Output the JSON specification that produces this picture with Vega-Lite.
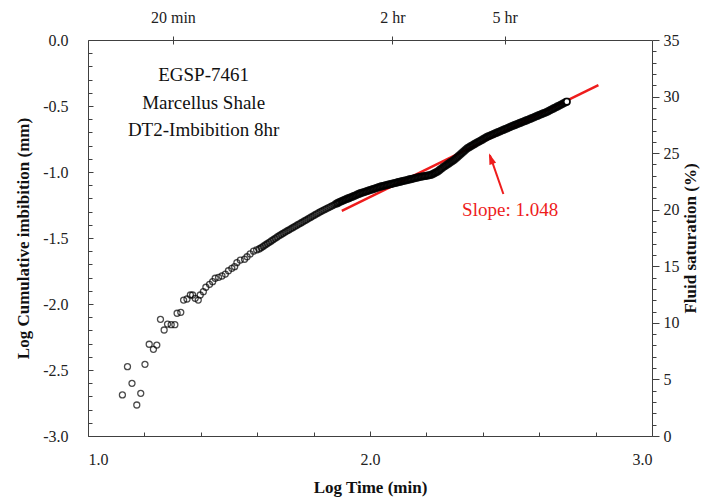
{
  "$schema": "https://vega.github.io/schema/vega-lite/v6.json",
  "width": 564,
  "height": 396,
  "autosize": {"type": "none"},
  "padding": {"left": 88, "top": 40, "right": 75, "bottom": 65},
  "background": "white",
  "config": {
    "view": {"stroke": null},
    "font": "Liberation Serif",
    "axis": {
      "grid": false,
      "domainColor": "#404040",
      "tickColor": "#404040",
      "labelColor": "#222222",
      "titleColor": "#111111",
      "labelFont": "Liberation Serif",
      "titleFont": "Liberation Serif",
      "labelFontSize": 16,
      "titleFontSize": 17,
      "titleFontWeight": "bold",
      "domainWidth": 1,
      "tickWidth": 1
    }
  },
  "datasets": {
    "pts": [
      {"t":1.122,"v":-2.689},{"t":1.140,"v":-2.475},{"t":1.156,"v":-2.601},{"t":1.173,"v":-2.765},{"t":1.187,"v":-2.677},
      {"t":1.202,"v":-2.457},{"t":1.217,"v":-2.305},{"t":1.232,"v":-2.343},{"t":1.244,"v":-2.311},{"t":1.257,"v":-2.116},
      {"t":1.270,"v":-2.197},{"t":1.282,"v":-2.152},{"t":1.295,"v":-2.157},{"t":1.308,"v":-2.157},{"t":1.316,"v":-2.070},
      {"t":1.329,"v":-2.063},{"t":1.339,"v":-1.970},{"t":1.351,"v":-1.962},{"t":1.363,"v":-1.932},{"t":1.371,"v":-1.932},
      {"t":1.380,"v":-1.957},{"t":1.391,"v":-1.970},{"t":1.398,"v":-1.932},{"t":1.409,"v":-1.907},{"t":1.418,"v":-1.873},
      {"t":1.431,"v":-1.851},{"t":1.442,"v":-1.831},{"t":1.451,"v":-1.805},{"t":1.463,"v":-1.798},{"t":1.475,"v":-1.788},
      {"t":1.487,"v":-1.773},{"t":1.498,"v":-1.748},{"t":1.510,"v":-1.730},{"t":1.520,"v":-1.717},{"t":1.528,"v":-1.687},
      {"t":1.540,"v":-1.667},{"t":1.555,"v":-1.661},{"t":1.564,"v":-1.642},{"t":1.575,"v":-1.621},{"t":1.587,"v":-1.600},
      {"t":1.598,"v":-1.590},
      {"t":1.607,"v":-1.583},{"t":1.614,"v":-1.574},{"t":1.621,"v":-1.564},{"t":1.628,"v":-1.554},{"t":1.635,"v":-1.544},
      {"t":1.642,"v":-1.534},{"t":1.649,"v":-1.524},{"t":1.656,"v":-1.514},{"t":1.663,"v":-1.504},{"t":1.670,"v":-1.494},
      {"t":1.677,"v":-1.484},{"t":1.684,"v":-1.475},{"t":1.691,"v":-1.466},{"t":1.698,"v":-1.457},{"t":1.705,"v":-1.448},
      {"t":1.712,"v":-1.440},{"t":1.719,"v":-1.431},{"t":1.726,"v":-1.422},{"t":1.733,"v":-1.414},{"t":1.740,"v":-1.405},
      {"t":1.747,"v":-1.396},{"t":1.754,"v":-1.388},{"t":1.761,"v":-1.379},{"t":1.768,"v":-1.370},{"t":1.775,"v":-1.362},
      {"t":1.782,"v":-1.353},{"t":1.789,"v":-1.344},{"t":1.796,"v":-1.336},{"t":1.803,"v":-1.327},{"t":1.810,"v":-1.318},
      {"t":1.817,"v":-1.310},{"t":1.824,"v":-1.301},{"t":1.831,"v":-1.294},{"t":1.838,"v":-1.286},{"t":1.845,"v":-1.279},
      {"t":1.852,"v":-1.271},{"t":1.859,"v":-1.264},{"t":1.866,"v":-1.256},{"t":1.873,"v":-1.249},{"t":1.880,"v":-1.241},
      {"t":1.885,"v":-1.236},{"t":1.890,"v":-1.230},{"t":1.895,"v":-1.225},{"t":1.900,"v":-1.220},{"t":1.905,"v":-1.216},
      {"t":1.910,"v":-1.211},{"t":1.915,"v":-1.207},{"t":1.920,"v":-1.202},{"t":1.925,"v":-1.198},{"t":1.930,"v":-1.194},
      {"t":1.935,"v":-1.189},{"t":1.940,"v":-1.185},{"t":1.945,"v":-1.180},{"t":1.950,"v":-1.176},{"t":1.955,"v":-1.171},
      {"t":1.960,"v":-1.166},{"t":1.965,"v":-1.162},{"t":1.970,"v":-1.158},{"t":1.975,"v":-1.155},{"t":1.980,"v":-1.151},
      {"t":1.985,"v":-1.148},{"t":1.990,"v":-1.144},{"t":1.995,"v":-1.141},{"t":2.000,"v":-1.137},{"t":2.005,"v":-1.134},
      {"t":2.010,"v":-1.130},{"t":2.015,"v":-1.127},{"t":2.020,"v":-1.123},{"t":2.025,"v":-1.119},{"t":2.030,"v":-1.116},
      {"t":2.035,"v":-1.112},{"t":2.040,"v":-1.109},{"t":2.045,"v":-1.107},{"t":2.050,"v":-1.104},{"t":2.055,"v":-1.101},
      {"t":2.060,"v":-1.099},{"t":2.065,"v":-1.096},{"t":2.070,"v":-1.093},{"t":2.075,"v":-1.091},{"t":2.080,"v":-1.088},
      {"t":2.085,"v":-1.085},{"t":2.090,"v":-1.083},{"t":2.095,"v":-1.080},{"t":2.100,"v":-1.077},{"t":2.105,"v":-1.075},
      {"t":2.110,"v":-1.072},{"t":2.115,"v":-1.069},{"t":2.120,"v":-1.067},{"t":2.125,"v":-1.064},{"t":2.130,"v":-1.062},
      {"t":2.135,"v":-1.059},{"t":2.140,"v":-1.056},{"t":2.145,"v":-1.054},{"t":2.150,"v":-1.051},{"t":2.155,"v":-1.049},
      {"t":2.160,"v":-1.046},{"t":2.165,"v":-1.043},{"t":2.170,"v":-1.041},{"t":2.175,"v":-1.038},{"t":2.180,"v":-1.036},
      {"t":2.185,"v":-1.034},{"t":2.190,"v":-1.032},{"t":2.195,"v":-1.030},{"t":2.200,"v":-1.029},{"t":2.205,"v":-1.027},
      {"t":2.210,"v":-1.025},{"t":2.215,"v":-1.023},{"t":2.220,"v":-1.018},{"t":2.225,"v":-1.013},{"t":2.230,"v":-1.007},
      {"t":2.235,"v":-1.002},{"t":2.240,"v":-0.996},{"t":2.245,"v":-0.988},{"t":2.250,"v":-0.980},{"t":2.255,"v":-0.972},
      {"t":2.260,"v":-0.963},{"t":2.265,"v":-0.956},{"t":2.270,"v":-0.949},{"t":2.275,"v":-0.942},{"t":2.280,"v":-0.935},
      {"t":2.285,"v":-0.927},{"t":2.290,"v":-0.920},{"t":2.295,"v":-0.913},{"t":2.300,"v":-0.905},{"t":2.305,"v":-0.896},
      {"t":2.310,"v":-0.886},{"t":2.315,"v":-0.877},{"t":2.320,"v":-0.867},{"t":2.325,"v":-0.858},{"t":2.330,"v":-0.848},
      {"t":2.335,"v":-0.839},{"t":2.340,"v":-0.829},{"t":2.345,"v":-0.820},{"t":2.350,"v":-0.814},{"t":2.355,"v":-0.808},
      {"t":2.360,"v":-0.802},{"t":2.365,"v":-0.795},{"t":2.370,"v":-0.789},{"t":2.375,"v":-0.783},{"t":2.380,"v":-0.777},
      {"t":2.385,"v":-0.771},{"t":2.390,"v":-0.765},{"t":2.395,"v":-0.759},{"t":2.400,"v":-0.753},{"t":2.405,"v":-0.746},
      {"t":2.410,"v":-0.740},{"t":2.415,"v":-0.734},{"t":2.420,"v":-0.729},{"t":2.425,"v":-0.725},{"t":2.430,"v":-0.720},
      {"t":2.435,"v":-0.716},{"t":2.440,"v":-0.711},{"t":2.445,"v":-0.706},{"t":2.450,"v":-0.702},{"t":2.455,"v":-0.697},
      {"t":2.460,"v":-0.693},{"t":2.465,"v":-0.688},{"t":2.470,"v":-0.684},{"t":2.475,"v":-0.679},{"t":2.480,"v":-0.674},
      {"t":2.485,"v":-0.670},{"t":2.490,"v":-0.665},{"t":2.495,"v":-0.661},{"t":2.500,"v":-0.656},{"t":2.505,"v":-0.652},
      {"t":2.510,"v":-0.647},{"t":2.515,"v":-0.643},{"t":2.520,"v":-0.639},{"t":2.525,"v":-0.634},{"t":2.530,"v":-0.630},
      {"t":2.535,"v":-0.626},{"t":2.540,"v":-0.621},{"t":2.545,"v":-0.617},{"t":2.550,"v":-0.613},{"t":2.555,"v":-0.609},
      {"t":2.560,"v":-0.604},{"t":2.565,"v":-0.600},{"t":2.570,"v":-0.596},{"t":2.575,"v":-0.591},{"t":2.580,"v":-0.587},
      {"t":2.585,"v":-0.582},{"t":2.590,"v":-0.578},{"t":2.595,"v":-0.573},{"t":2.600,"v":-0.569},{"t":2.605,"v":-0.564},
      {"t":2.610,"v":-0.560},{"t":2.615,"v":-0.555},{"t":2.620,"v":-0.551},{"t":2.625,"v":-0.547},{"t":2.630,"v":-0.542},
      {"t":2.635,"v":-0.536},{"t":2.640,"v":-0.531},{"t":2.645,"v":-0.525},{"t":2.650,"v":-0.520},{"t":2.655,"v":-0.514},
      {"t":2.660,"v":-0.509},{"t":2.665,"v":-0.503},{"t":2.670,"v":-0.498},{"t":2.675,"v":-0.492},{"t":2.680,"v":-0.487},
      {"t":2.685,"v":-0.481},{"t":2.690,"v":-0.476},{"t":2.695,"v":-0.470},{"t":2.698,"v":-0.467}
    ],
    "trend": [{"t1": 1.90, "v1": -1.295, "t2": 2.81, "v2": -0.341}],
    "arrow": [{"t1": 2.473, "v1": -1.167, "t2": 2.425, "v2": -0.872}],
    "head": [{"t": 2.422, "v": -0.858}],
    "notes": [
      {"t": 1.41, "v": -0.265, "label": "EGSP-7461"},
      {"t": 1.41, "v": -0.48, "label": "Marcellus Shale"},
      {"t": 1.41, "v": -0.682, "label": "DT2-Imbibition 8hr"}
    ],
    "slope": [{"t": 2.497, "v": -1.288, "label": "Slope: 1.048"}]
  },
  "resolve": {"axis": {"x": "independent", "y": "independent"}},
  "layer": [
    {
      "data": {"name": "trend"},
      "mark": {"type": "rule", "color": "#ee1c1c", "strokeWidth": 2.5},
      "encoding": {
        "x": {"field": "t1", "type": "quantitative", "scale": {"domain": [1, 3], "nice": false, "zero": false},
          "axis": {"orient": "bottom", "values": [1, 2, 3], "format": ".1f", "tickSize": -5, "labelPadding": 20, "title": "Log Time (min)", "titlePadding": 12}},
        "y": {"field": "v1", "type": "quantitative", "scale": {"domain": [-3, 0], "nice": false, "zero": false},
          "axis": {"orient": "left", "values": [-3, -2.5, -2, -1.5, -1, -0.5, 0], "labelExpr": "(datum.value < 0 ? '-' : '') + format(abs(datum.value), '.1f')", "tickSize": -5, "labelPadding": 25, "title": "Log Cumulative imbibition (mm)", "titlePadding": 10}},
        "x2": {"field": "t2"},
        "y2": {"field": "v2"}
      }
    },
    {
      "data": {"name": "pts"},
      "mark": {"type": "point", "shape": "circle", "filled": false, "color": "#000000", "size": 36},
      "encoding": {
        "x": {"field": "t", "type": "quantitative",
          "axis": {"orient": "bottom", "values": [1.2, 1.4, 1.6, 1.8, 2.2, 2.4, 2.6, 2.8], "tickSize": -4, "labels": false, "domain": false, "title": null}},
        "y": {"field": "v", "type": "quantitative",
          "axis": {"orient": "left", "values": [-2.9, -2.8, -2.7, -2.6, -2.4, -2.3, -2.2, -2.1, -1.9, -1.8, -1.7, -1.6, -1.4, -1.3, -1.2, -1.1, -0.9, -0.8, -0.7, -0.6, -0.4, -0.3, -0.2, -0.1], "tickSize": -4, "labels": false, "domain": false, "title": null}},
        "strokeWidth": {"condition": [{"test": "datum.t >= 1.88", "value": 2.1}, {"test": "datum.t >= 1.6", "value": 1.7}], "value": 1.3}
      }
    },
    {
      "data": {"name": "pts"},
      "transform": [{"filter": "datum.t >= 2.698"}],
      "mark": {"type": "point", "shape": "circle", "filled": true, "fill": "#ffffff", "stroke": "#000000", "strokeWidth": 1.4, "size": 36, "opacity": 1},
      "encoding": {
        "x": {"field": "t", "type": "quantitative",
          "axis": {"orient": "top", "values": [1.30103, 2.07918, 2.47712], "labelExpr": "datum.value < 1.5 ? '20 min' : (datum.value < 2.3 ? '2 hr' : '5 hr')", "tickSize": 4, "labelPadding": 11, "title": null}},
        "y": {"field": "v", "type": "quantitative",
          "axis": {"orient": "right", "values": [-3, -2.571429, -2.142857, -1.714286, -1.285714, -0.857143, -0.428571, 0], "labelExpr": "format((datum.value + 3) * 35 / 3, '.0f')", "tickSize": 7, "labelPadding": 4, "title": "Fluid saturation (%)", "titleAngle": 270, "titlePadding": 20}}
      }
    },
    {
      "data": {"name": "arrow"},
      "mark": {"type": "rule", "color": "#ee1c1c", "strokeWidth": 2},
      "encoding": {
        "x": {"field": "t1", "type": "quantitative",
          "axis": {"orient": "top", "values": [1.30103, 2.07918, 2.47712], "tickSize": -4, "labels": false, "domain": false, "title": null}},
        "y": {"field": "v1", "type": "quantitative",
          "axis": {"orient": "right", "values": [-2.914286, -2.828571, -2.742857, -2.657143, -2.485714, -2.4, -2.314286, -2.228571, -2.057143, -1.971429, -1.885714, -1.8, -1.628571, -1.542857, -1.457143, -1.371429, -1.2, -1.114286, -1.028571, -0.942857, -0.771429, -0.685714, -0.6, -0.514286, -0.342857, -0.257143, -0.171429, -0.085714], "tickSize": 4, "labels": false, "domain": false, "title": null}},
        "x2": {"field": "t2"},
        "y2": {"field": "v2"}
      }
    },
    {
      "data": {"name": "head"},
      "mark": {"type": "point", "shape": "M0,0L0.5,1.6L-0.5,1.6Z", "filled": true, "color": "#ee1c1c", "size": 196, "angle": 340.5, "opacity": 1},
      "encoding": {
        "x": {"field": "t", "type": "quantitative", "axis": null},
        "y": {"field": "v", "type": "quantitative", "axis": null}
      }
    },
    {
      "data": {"name": "notes"},
      "mark": {"type": "text", "font": "Liberation Serif", "fontSize": 19, "color": "#111111", "align": "center", "baseline": "middle"},
      "encoding": {
        "x": {"field": "t", "type": "quantitative", "axis": null},
        "y": {"field": "v", "type": "quantitative", "axis": null},
        "text": {"field": "label"}
      }
    },
    {
      "data": {"name": "slope"},
      "mark": {"type": "text", "font": "Liberation Serif", "fontSize": 19, "color": "#ee1c1c", "align": "center", "baseline": "middle"},
      "encoding": {
        "x": {"field": "t", "type": "quantitative", "axis": null},
        "y": {"field": "v", "type": "quantitative", "axis": null},
        "text": {"field": "label"}
      }
    }
  ]
}
